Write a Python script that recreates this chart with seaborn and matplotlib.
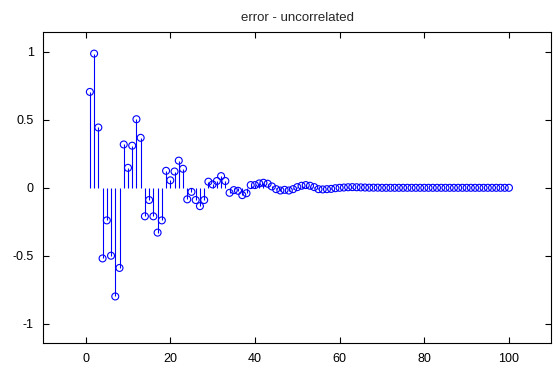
import matplotlib
matplotlib.use("Agg")
import matplotlib.pyplot as plt
import seaborn as sns
import numpy as np
import pandas as pd

title = "error - uncorrelated"
n_index = list(range(1, 101))
head_values = [
    0.706, 0.988, 0.444, -0.52, -0.24, -0.50, -0.80, -0.59, 0.319, 0.147,
    0.31, 0.505, 0.368, -0.21, -0.09, -0.21, -0.33, -0.24, 0.125, 0.055,
    0.12, 0.20, 0.14, -0.085, -0.03, -0.09, -0.135, -0.09, 0.045, 0.025,
    0.05, 0.086, 0.05, -0.037, -0.017, -0.022, -0.054, -0.04, 0.02, 0.02,
    0.032, 0.037, 0.03, 0.01, -0.01, -0.02, -0.015, -0.02, -0.01, 0.005,
    0.015, 0.02, 0.015, 0.005, -0.01, -0.012, -0.01, -0.008, -0.003, 0.0,
    0.002, 0.004, 0.005, 0.004, 0.003, 0.002,
]
tail_values = [0.001, 0.001, 0.001, 0.0, 0.0, 0.0, 0.0, 0.0, 0.0, 0.0,
               0.0, 0.0, 0.0, 0.0, 0.0, 0.0, 0.0, 0.0, 0.0, 0.0,
               0.0, 0.0, 0.0, 0.0, 0.0, 0.0, 0.0, 0.0, 0.0, 0.0,
               0.0, 0.0, 0.0, 0.0]
values = head_values + tail_values
x_ticks = [0, 20, 40, 60, 80, 100]
y_ticks = [-1, -0.5, 0, 0.5, 1]
y_tick_labels = ["-1", "-0.5", "0", "0.5", "1"]

df = pd.DataFrame({"n": n_index, "e": values})

sns.set_style("ticks")
plt.rcParams["font.family"] = ["Liberation Sans", "DejaVu Sans"]
plt.rcParams["xtick.direction"] = "in"
plt.rcParams["ytick.direction"] = "in"

fig = plt.figure(figsize=(5.58, 3.69), dpi=100)
ax = fig.add_axes([0.0776, 0.0696, 0.988 - 0.0776, 0.9125 - 0.0696])

blue = (0, 0, 1)
ax.vlines(df["n"], 0, df["e"], colors=[blue], linewidth=0.8, zorder=2)
sns.scatterplot(data=df, x="n", y="e", ax=ax, marker="o", s=25,
                facecolors="none", edgecolor=blue, linewidth=0.8, zorder=3,
                legend=False)

ax.set_xlim(-10, 110)
ax.set_ylim(-1.145, 1.145)
ax.set_xticks(x_ticks)
ax.set_xticklabels([str(t) for t in x_ticks])
ax.set_yticks(y_ticks)
ax.set_yticklabels(y_tick_labels)
ax.set_xlabel("")
ax.set_ylabel("")
ax.set_title(title, fontsize=9.5, pad=8)
ax.tick_params(axis="both", labelsize=9, length=4, width=0.8,
               top=True, right=True, colors="black")
ax.tick_params(axis="y", pad=7)
ax.tick_params(axis="x", pad=7)
for sp in ax.spines.values():
    sp.set_visible(True)
    sp.set_linewidth(0.8)
    sp.set_color("black")

fig.savefig("out.png", dpi=100)
